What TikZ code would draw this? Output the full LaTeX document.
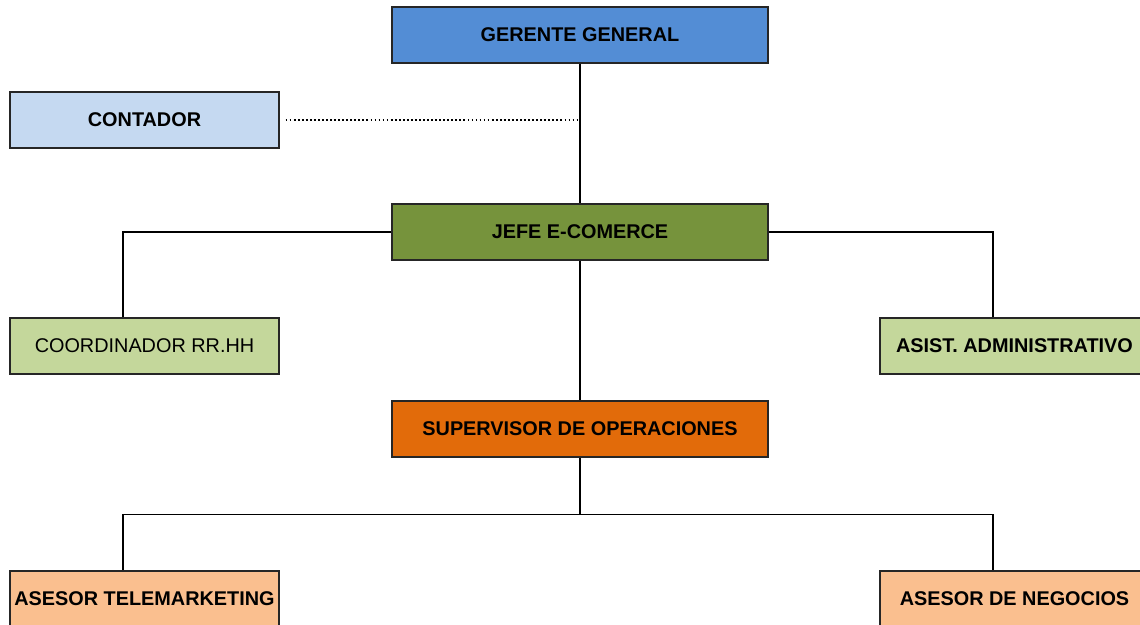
\documentclass[tikz,border=0pt]{standalone}
\usepackage{fontspec}
\setmainfont{Liberation Sans}
\definecolor{cGerente}{RGB}{83,141,213}
\definecolor{cContador}{RGB}{197,217,241}
\definecolor{cJefe}{RGB}{118,147,60}
\definecolor{cApoyo}{RGB}{196,215,155}
\definecolor{cSuper}{RGB}{226,107,10}
\definecolor{cAsesor}{RGB}{250,191,143}
\usetikzlibrary{positioning}

\begin{document}
\begin{tikzpicture}[x=0.02cm,y=-0.02cm,
    box/.style={draw=black!85, line width=0.8pt, minimum height=1.12cm, inner sep=0pt,
      font=\fontsize{11.3}{13}\selectfont\bfseries},
    bigbox/.style={box, minimum width=7.52cm},
    smallbox/.style={box, minimum width=5.38cm},
    link/.style={line width=0.6pt, black}]
    \useasboundingbox (0,0) rectangle (1140,625);
    % Central line
    \node[bigbox, fill=cGerente] (gerente) at (580,35) {GERENTE GENERAL};
    \node[bigbox, fill=cJefe] (jefe) at (580,232) {JEFE E-COMERCE};
    \node[bigbox, fill=cSuper] (super) at (580,429) {SUPERVISOR DE OPERACIONES};
    % Staff
    \node[smallbox, fill=cContador] (contador) at (144.5,120) {CONTADOR};
    \node[smallbox, fill=cApoyo, font=\fontsize{11.3}{13}\selectfont] (rrhh) at (144.5,346) {COORDINADOR RR.HH};
    \node[smallbox, fill=cApoyo] (asist) at (1014.5,346) {ASIST. ADMINISTRATIVO};
    % Asesores
    \node[smallbox, fill=cAsesor] (tele) at (144.5,599) {ASESOR TELEMARKETING};
    \node[smallbox, fill=cAsesor] (negocios) at (1014.5,599) {ASESOR DE NEGOCIOS};
    % Connectors
    \draw[link] (gerente.south) -- (jefe.north);
    \draw[link, dash pattern=on 1pt off 1.3pt] ([xshift=0.12cm]contador.east) -- (contador.east -| gerente.south);
    \draw[link] (jefe.west) -| ([xshift=-0.43cm]rrhh.north);
    \draw[link] (jefe.east) -| ([xshift=-0.43cm]asist.north);
    \draw[link] (jefe.south) -- (super.north);
    \draw[link] (super.south) -- ++(0,57) coordinate (fork);
    \draw[link] (fork) -| ([xshift=-0.43cm]tele.north);
    \draw[link] (fork) -| ([xshift=-0.43cm]negocios.north);
\end{tikzpicture}
\end{document}
